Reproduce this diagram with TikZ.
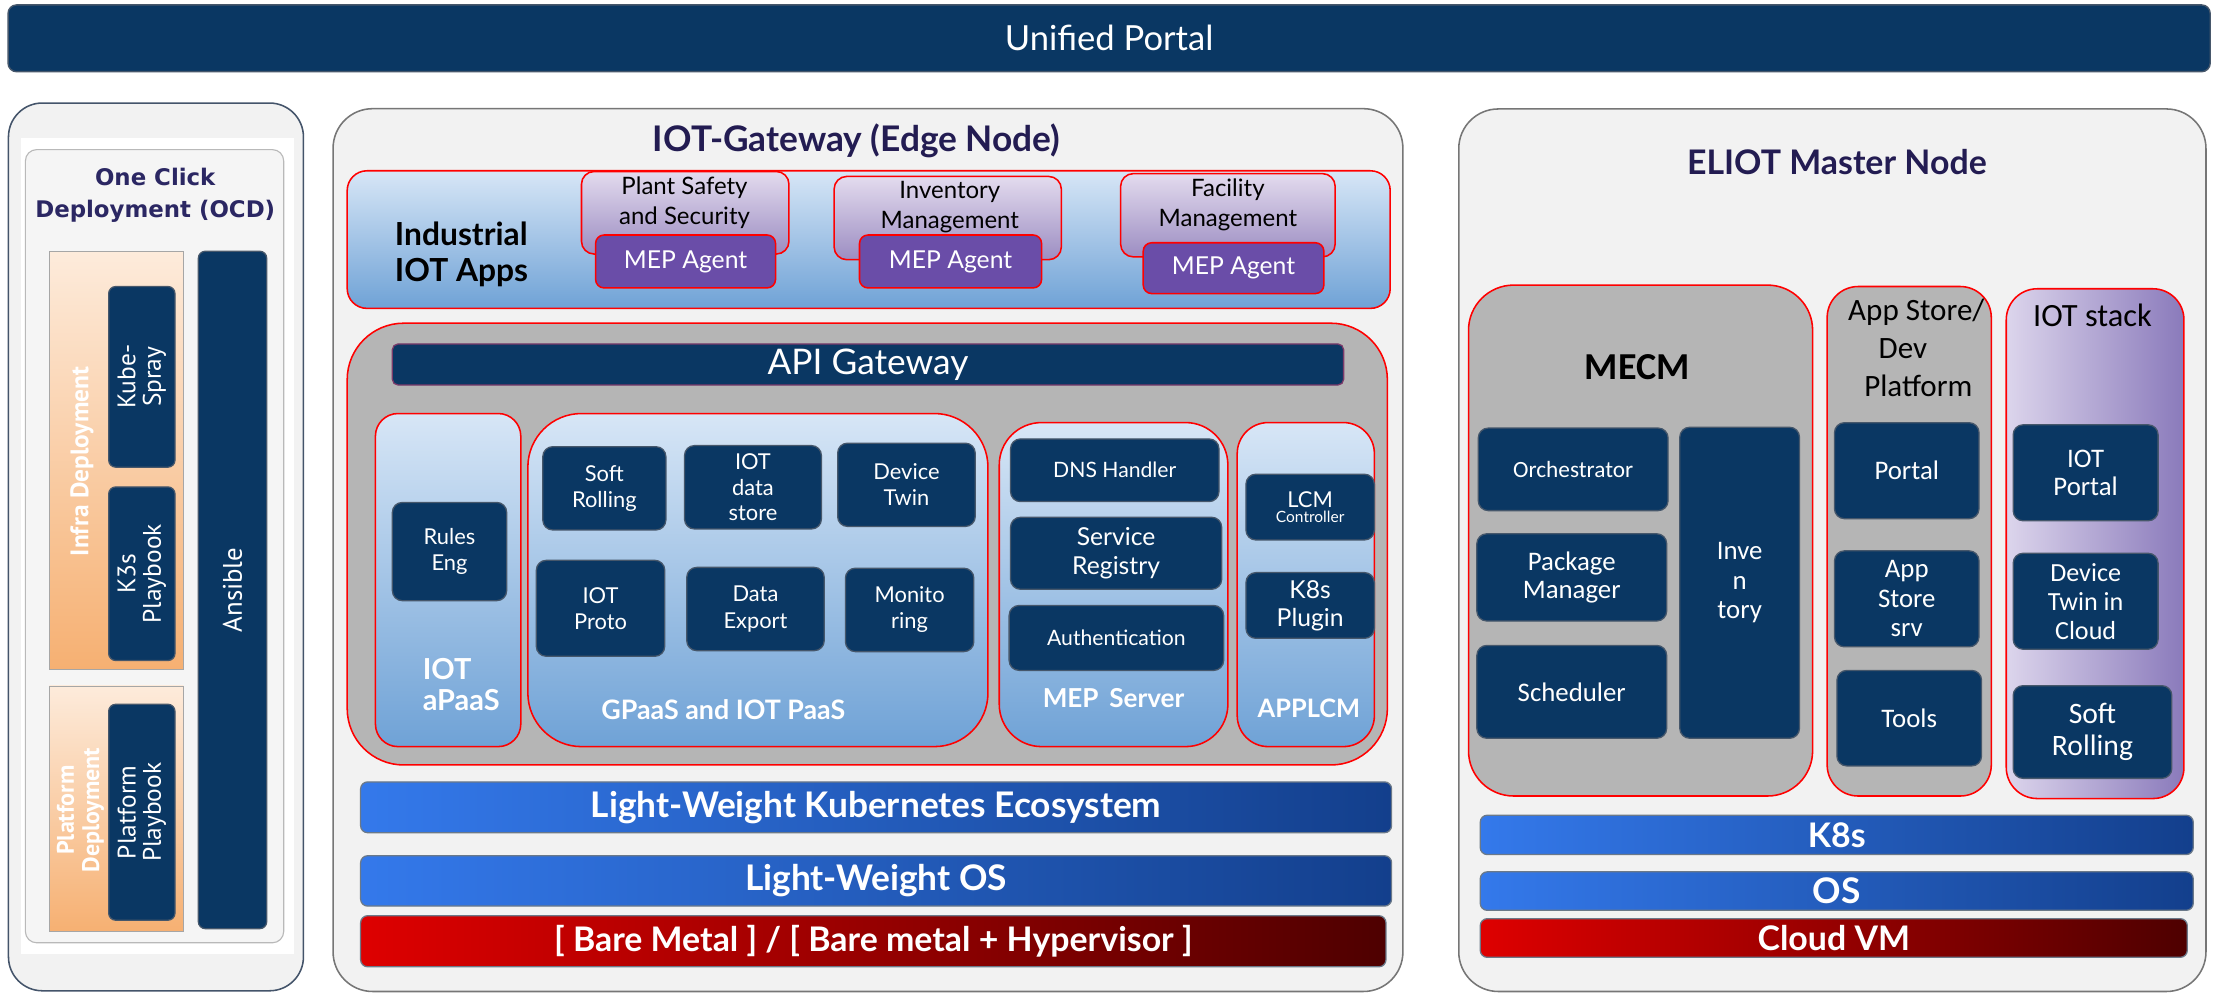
\documentclass[tikz,border=0pt]{standalone}
\usepackage{fontspec}
\setmainfont{Lato}
\newfontfamily\calfnt{Carlito}
\newfontfamily\ptsfnt{PT Sans}
\newfontfamily\dvsfnt{DejaVu Sans}

\definecolor{navy}{HTML}{0A3763}
\definecolor{boxedge}{HTML}{46576B}
\definecolor{panelbg}{HTML}{F2F2F2}
\definecolor{panelbd}{HTML}{767676}
\definecolor{ocdbd}{HTML}{44546A}
\definecolor{ocdtitle}{HTML}{2B2763}
\definecolor{greyp}{HTML}{B5B5B5}
\definecolor{bluetop}{HTML}{D7E6F6}
\definecolor{bluebot}{HTML}{6FA2D6}
\definecolor{appstop}{HTML}{E3DBEE}
\definecolor{appsbot}{HTML}{9C8DC2}
\definecolor{mepag}{HTML}{6A4DA8}
\definecolor{titlec}{HTML}{231C52}
\definecolor{barl}{HTML}{3479EB}
\definecolor{barr}{HTML}{133F8C}
\definecolor{redl}{HTML}{DE0000}
\definecolor{redr}{HTML}{4E0000}
\definecolor{lavl}{HTML}{DCD5EC}
\definecolor{lavm}{HTML}{C6BCDF}
\definecolor{lavr}{HTML}{8A7ABB}
\definecolor{orlt}{HTML}{FDEBDB}
\definecolor{ordk}{HTML}{F6B072}
\definecolor{apibd}{HTML}{7B3A6A}
\definecolor{redbd}{HTML}{FF0000}

\newcommand\fsz[2]{\fontsize{#1}{#2}\selectfont}
% box spanning two corners: name, style, x1, y1, x2, y2, text
\newcommand\bx[7]{%
  \pgfmathsetmacro\bxw{#5-#3}%
  \pgfmathsetmacro\bxh{#6-#4}%
  \node[#2, minimum width=\bxw pt, minimum height=\bxh pt, anchor=center]
    (#1) at ({(#3+#5)/2},{(#4+#6)/2}) {#7};}

\begin{document}
\begin{tikzpicture}[x=1pt,y=-1pt,
  navybox/.style={draw=boxedge, line width=0.9pt, fill=navy, rounded corners=7pt,
    inner sep=0pt, text=white, align=center},
  topbar/.style={draw=boxedge, line width=1pt, fill=navy, rounded corners=6pt,
    inner sep=0pt, text=white, align=center},
  panel/.style={draw=panelbd, line width=1.1pt, fill=panelbg, rounded corners=28pt, inner sep=0pt},
  redpanel/.style={draw=redbd, line width=1.1pt, inner sep=0pt},
  bluegrad/.style={top color=bluetop, bottom color=bluebot},
  greypanel/.style={redpanel, fill=greyp},
  appbox/.style={redpanel, top color=appstop, bottom color=appsbot, rounded corners=9pt},
  applbl/.style={font=\fsz{17}{21.5}, align=center},
  mepbox/.style={redpanel, fill=mepag, rounded corners=6pt, text=white, font=\fsz{17.5}{20}},
  bluebar/.style={draw=boxedge!80, line width=0.9pt, left color=barl, right color=barr,
    rounded corners=5pt, inner sep=0pt, text=white, font=\bfseries\fsz{25}{28}},
  redbar/.style={draw=boxedge!80, line width=0.9pt, left color=redl, right color=redr,
    rounded corners=5pt, inner sep=0pt, text=white, font=\bfseries\fsz{24}{28}},
  orbox/.style={draw=gray!70, line width=0.6pt, top color=orlt, bottom color=ordk, inner sep=0pt},
  whitelbl/.style={text=white, font=\bfseries\fsz{19}{22}, align=center},
  edgesm/.style={font=\fsz{15.5}{18.5}},
  edgemd/.style={font=\fsz{17.5}{20}},
  calsm/.style={font=\calfnt\fsz{19}{20.8}},
]
\fill[white] (0,0) rectangle (1568,704);
\useasboundingbox (0,0) rectangle (1568,704);

% ---------- top bar ----------
\bx{portal}{topbar, font=\fsz{24.5}{28}}{5.7}{3.5}{1566}{50.8}{Unified Portal}

% ---------- One Click Deployment ----------
\bx{ocd}{panel, draw=ocdbd, rounded corners=24pt}{6}{73}{215}{702}{}
\bx{ocdimg}{inner sep=0pt, fill=white}{15}{98}{208}{676}{}
\bx{ocdframe}{inner sep=0pt, draw=gray!55, line width=0.8pt, fill=black!4, rounded corners=8pt}{18}{106}{201}{668}{}
\node[font=\dvsfnt\bfseries\fsz{16.2}{22.5}, text=ocdtitle, align=center] (ocdtitle) at (110,138.5)
  {One Click\\Deployment (OCD)};
\bx{infra}{orbox}{35}{178}{130}{474}{}
\bx{platdep}{orbox}{35}{486}{130}{660}{}
\node[rotate=90, text=white, font=\ptsfnt\bfseries\fsz{18}{18}] (infralbl) at (58,327) {Infra Deployment};
\node[rotate=90, text=white, font=\ptsfnt\bfseries\fsz{17}{18}, align=center] (platlbl) at (57,574)
  {Platform\\Deployment};
\bx{kube}{navybox, rounded corners=5pt}{77}{203}{124}{331}{}
\bx{k3s}{navybox, rounded corners=5pt}{77}{345}{124}{468}{}
\bx{platpb}{navybox, rounded corners=5pt}{77}{499}{124}{652}{}
\bx{ansible}{navybox, rounded corners=5pt}{140.5}{178}{189}{658}{}
\node[rotate=90, text=white, font=\ptsfnt\fsz{18}{18}, align=center] (kubelbl) at (kube.center) {Kube-\\Spray};
\node[rotate=90, text=white, font=\ptsfnt\fsz{18}{18}, align=center] (k3slbl) at (k3s.center) {K3s\\Playbook};
\node[rotate=90, text=white, font=\ptsfnt\fsz{18}{18}, align=center] (platpblbl) at (platpb.center) {Platform\\Playbook};
\node[rotate=90, text=white, font=\ptsfnt\fsz{19}{20}] (ansiblelbl) at (ansible.center) {Ansible};

% ---------- IOT Gateway (Edge node) ----------
\bx{edge}{panel}{236}{77}{994}{702.5}{}
\node[font=\bfseries\fsz{25}{28}, text=titlec] (edgetitle) at (607,100) {IOT-Gateway (Edge Node)};

\bx{apps}{redpanel, bluegrad, rounded corners=14pt}{246}{121}{985}{218.5}{}
\node[font=\bfseries\fsz{22.5}{25.5}, align=left] (appslbl) at (327,180) {Industrial\\IOT Apps};
\bx{plant}{appbox}{412}{121.5}{559}{180}{}
\node[applbl] (plantlbl) at (485,143.5) {Plant Safety\\and Security};
\bx{mep1}{mepbox}{422}{166.5}{549.5}{204}{MEP Agent}
\bx{invapp}{appbox}{591}{125}{752}{184}{}
\node[applbl] (invlbl) at (673,146.5) {Inventory\\Management};
\bx{mep2}{mepbox}{609}{166.5}{738}{204}{MEP Agent}
\bx{facapp}{appbox}{794}{123}{946}{182}{}
\node[applbl] (faclbl) at (870,145) {Facility\\Management};
\bx{mep3}{mepbox}{810}{172}{938}{208}{MEP Agent}

\bx{paas}{greypanel, rounded corners=40pt}{246}{229}{983}{542}{}
\bx{apigw}{navybox, draw=apibd, rounded corners=4pt, font=\fsz{25}{28}}{278}{243.7}{952}{272.8}{API Gateway}

\bx{apaas}{redpanel, bluegrad, rounded corners=16pt}{266}{293}{369}{529}{}
\bx{rules}{navybox, edgesm}{278}{356}{359}{425.6}{Rules\\Eng}
\node[whitelbl, font=\bfseries\fsz{20.5}{22.5}, align=left, anchor=west] (apaaslbl) at (296,485) {IOT\\aPaaS};

\bx{gpaas}{redpanel, bluegrad, rounded corners=38pt}{374}{293}{700}{529}{}
\bx{softroll}{navybox, edgesm}{384.6}{316.5}{471.8}{375.5}{Soft\\Rolling}
\bx{datastore}{navybox, font=\fsz{15.5}{18}}{485}{315.7}{582}{374.8}{IOT\\data\\store}
\bx{devtwin}{navybox, edgesm}{593.5}{314}{691}{373}{Device\\Twin}
\bx{proto}{navybox, edgesm}{380}{397}{471}{465}{IOT\\Proto}
\bx{export}{navybox, edgesm}{486.6}{402}{584}{461}{Data\\Export}
\bx{monitor}{navybox, edgesm}{599}{402.6}{690}{461.7}{Monito\\ring}
\node[whitelbl] (gpaaslbl) at (512.5,503) {GPaaS and IOT PaaS};

\bx{mepsrv}{redpanel, bluegrad, rounded corners=30pt}{708}{299.4}{870}{529}{}
\bx{dns}{navybox, font=\fsz{15}{18}}{716}{311}{863.7}{355.4}{DNS Handler}
\bx{registry}{navybox, edgemd}{716}{366.5}{865.6}{417.5}{Service\\Registry}
\bx{auth}{navybox, font=\fsz{15}{18}}{715}{429}{867}{475}{Authentication}
\node[whitelbl, font=\bfseries\fsz{18.5}{22}] (mepsrvlbl) at (789,494.8) {MEP\, Server};

\bx{applcm}{redpanel, bluegrad, rounded corners=22pt}{876.6}{299.4}{973.8}{529}{}
\bx{lcm}{navybox}{882.8}{336}{973.8}{382.6}{{\fsz{15.5}{17}LCM}\\[-1pt]{\fsz{11}{13}Controller}}
\bx{k8splug}{navybox, edgemd}{882.8}{405.7}{973.8}{452.3}{K8s\\Plugin}
\node[whitelbl, font=\bfseries\fsz{18}{22}] (applcmlbl) at (927.4,501.8) {APPLCM};

\bx{lwk}{bluebar}{255.5}{554}{986}{590}{Light-Weight Kubernetes Ecosystem}
\bx{lwos}{bluebar}{255.5}{606.3}{986}{642}{Light-Weight OS}
\bx{bare}{redbar}{255.5}{648.8}{982}{685}{[ Bare Metal ] / [ Bare metal + Hypervisor ]}

% ---------- ELIOT master node ----------
\bx{master}{panel}{1033.6}{77.2}{1563}{702.5}{}
\node[font=\bfseries\fsz{24}{28}, text=titlec] (mastertitle) at (1301.5,114.5) {ELIOT Master Node};

\bx{mecm}{greypanel, rounded corners=32pt}{1040.5}{202}{1284.3}{564}{}
\node[font=\calfnt\bfseries\fsz{27}{30}] (mecmlbl) at (1160,260) {MECM};
\bx{orch}{navybox, font=\calfnt\fsz{16.5}{20}}{1047.4}{303.3}{1181.9}{361.8}{Orchestrator}
\bx{pkg}{navybox, font=\calfnt\fsz{19}{20}}{1046.4}{378.2}{1180.9}{440}{Package\\Manager}
\bx{sched}{navybox, calsm}{1046.4}{457.3}{1180.9}{523.1}{Scheduler}
\bx{inventory}{navybox, calsm}{1190.2}{302.7}{1275}{523.1}{Inve\\n\\tory}

\bx{appstore}{greypanel, rounded corners=22pt}{1294.6}{203}{1410.9}{564}{}
\node[font=\calfnt\fsz{22}{27.2}, align=left, anchor=north west] (appstorelbl) at (1306,208)
  {App Store/\\\hspace*{21.6pt}Dev\\\hspace*{11.4pt}Platform};
\bx{portalb}{navybox, calsm}{1299.8}{299.5}{1402.2}{367.5}{Portal}
\bx{storesrv}{navybox, calsm}{1299.8}{390.3}{1402.2}{458.3}{App\\Store\\srv}
\bx{tools}{navybox, calsm}{1301.5}{475}{1404}{542.7}{Tools}

\bx{iotstack}{redpanel, left color=lavl, middle color=lavm, right color=lavr, rounded corners=22pt}{1421.5}{204.6}{1547.4}{565.8}{}
\node[font=\calfnt\fsz{23}{28}] (iotstacklbl) at (1482.6,223.6) {IOT stack};
\bx{iotportal}{navybox, font=\calfnt\fsz{19}{20.2}}{1426.4}{301}{1529.1}{369}{IOT\\Portal}
\bx{twincloud}{navybox, font=\calfnt\fsz{18.5}{20.6}}{1426.4}{392}{1529.1}{460}{Device\\Twin in\\Cloud}
\bx{softroll2}{navybox, font=\calfnt\fsz{21}{22.8}}{1426.4}{485.8}{1538.8}{551.5}{Soft\\Rolling}

\bx{k8s}{bluebar, font=\bfseries\fsz{24}{28}}{1048.8}{577.6}{1554}{605.5}{K8s}
\bx{os}{bluebar, font=\bfseries\fsz{25}{28}}{1048.8}{617.7}{1554}{645}{OS}
\bx{cloudvm}{redbar}{1048.8}{650.9}{1549.8}{678.3}{Cloud VM}
\end{tikzpicture}
\end{document}
